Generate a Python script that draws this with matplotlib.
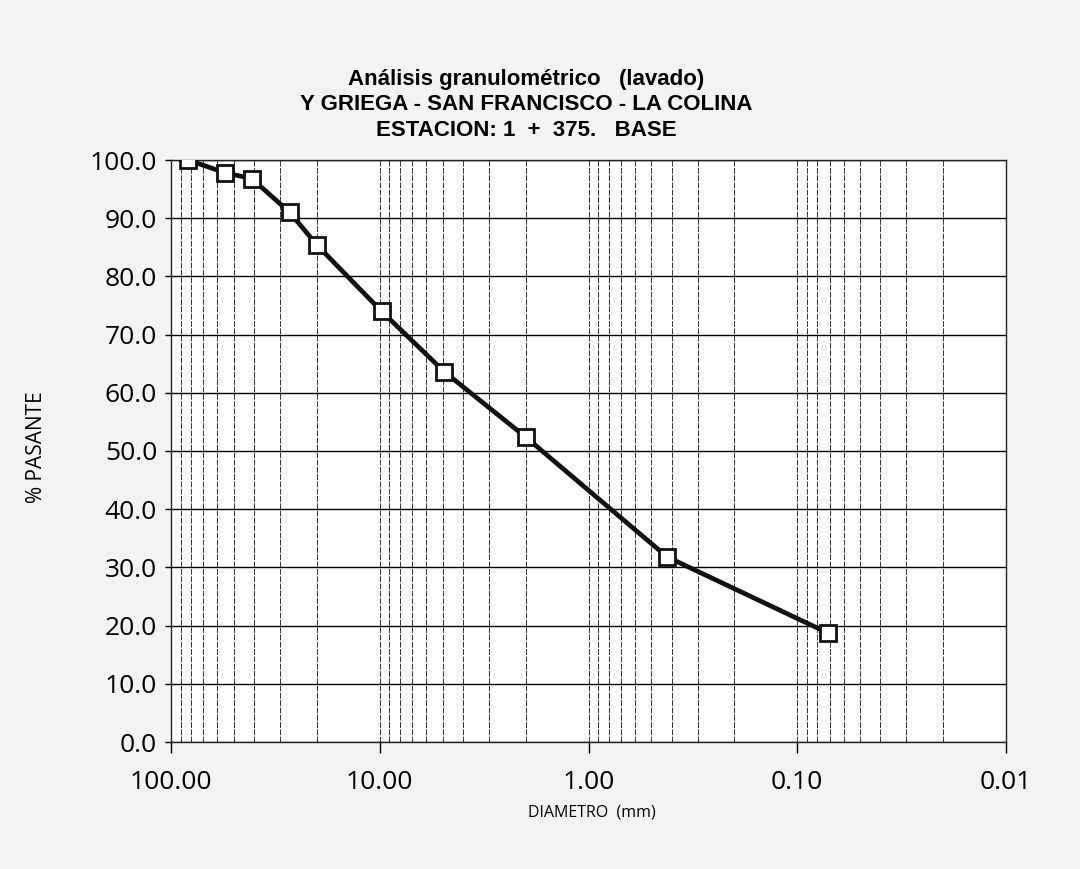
import matplotlib.pyplot as plt
import numpy as np
from matplotlib.ticker import FixedLocator, LogLocator, NullFormatter

# sieve openings (mm) and percent passing
diametro_mm = [83.0, 55.0, 41.0, 27.0, 20.0, 9.8, 4.9, 2.0, 0.42, 0.071]
pasante_pct = [100.0, 97.8, 96.8, 91.0, 85.4, 74.0, 63.6, 52.4, 31.8, 18.7]

x_ticks = [100, 10, 1, 0.1, 0.01]
x_tick_labels = ["100.00", "10.00", "1.00", "0.10", "0.01"]
y_ticks = list(range(0, 101, 10))

title_lines = [
    "Análisis granulométrico   (lavado)",
    "Y GRIEGA - SAN FRANCISCO - LA COLINA",
    "ESTACION: 1  +  375.   BASE",
]

fig = plt.figure(figsize=(10.8, 8.69), dpi=100, facecolor="#f3f3f1")
ax = fig.add_axes([171 / 1080, 1 - 742 / 869, 835 / 1080, 582 / 869])
ax.set_facecolor("white")

ax.set_xscale("log")
ax.set_xlim(100, 0.01)
ax.set_ylim(0, 100)

ax.xaxis.set_major_locator(FixedLocator(x_ticks))
ax.set_xticklabels(x_tick_labels)
ax.xaxis.set_minor_locator(LogLocator(base=10, subs=np.arange(2, 10)))
ax.xaxis.set_minor_formatter(NullFormatter())
ax.set_yticks(y_ticks)
ax.set_yticklabels([f"{v:.1f}" for v in y_ticks])

ax.grid(True, axis="y", which="major", color="black", linewidth=1.0)
ax.grid(True, axis="x", which="both", color="#333333", linewidth=0.7,
        linestyle=(0, (6, 1.5)))

ax.tick_params(axis="x", which="major", direction="out", length=8, width=1,
               pad=12, labelsize=19)
ax.tick_params(axis="x", which="minor", length=0)
ax.tick_params(axis="y", direction="out", length=4, width=1, pad=6,
               labelsize=19)
for lab in ax.get_xticklabels() + ax.get_yticklabels():
    lab.set_family("Open Sans")

for side in ("top", "left", "right", "bottom"):
    ax.spines[side].set_color("#222222")
    ax.spines[side].set_linewidth(1.0)

ax.plot(diametro_mm, pasante_pct, color="#111111", linewidth=3.4,
        marker="s", markersize=11, markerfacecolor="white",
        markeredgecolor="#111111", markeredgewidth=2, zorder=5)

ax.set_xlabel("DIAMETRO  (mm)", family="Open Sans", fontsize=11.5)
ax.xaxis.set_label_coords(0.504, -0.108)
ax.set_ylabel("% PASANTE", family="Open Sans", fontsize=15)
ax.yaxis.set_label_coords(-0.149, 0.507)

for i, line in enumerate(title_lines):
    fig.text(0.487, 1 - (79.5 + 25.5 * i) / 869, line, ha="center", va="center",
             family="Liberation Sans", fontweight="bold", fontsize=16)

fig.savefig("out.png", dpi=100, facecolor=fig.get_facecolor())
